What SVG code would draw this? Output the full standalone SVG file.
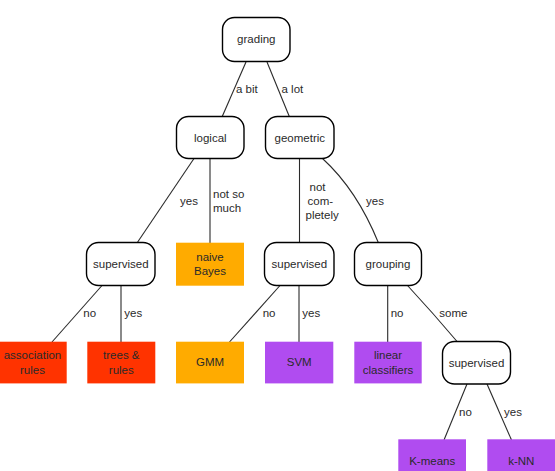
<svg xmlns="http://www.w3.org/2000/svg" width="555" height="471" viewBox="0 0 555 471">
  <style>
    .node rect { fill: #ffffff; stroke: #000000; stroke-width: 1.4; }
    .leaf rect { stroke: none; }
    .red rect { fill: #ff3300; }
    .orange rect { fill: #ffab00; }
    .purple rect { fill: #b04cf0; }
    text { font-family: "Liberation Sans", Arial, sans-serif; font-size: 11.5px; fill: #2a2a2a; }
    .c { text-anchor: middle; }
    .edges path, .edges line { fill: none; stroke: #2a2a2a; stroke-width: 1.1; }
  </style>
  <rect width="555" height="471" fill="#ffffff"/>

  <!-- connectors -->
  <g id="edges" class="edges">
    <line x1="246" y1="62" x2="222" y2="117"/>
    <line x1="267" y1="62" x2="289.5" y2="117"/>
    <line x1="194" y1="158.5" x2="137" y2="243"/>
    <line x1="210" y1="158.5" x2="210" y2="243"/>
    <line x1="299.5" y1="158.5" x2="299.5" y2="243"/>
    <path d="M322.5,158.5 Q357,190 378.5,243"/>
    <line x1="102" y1="285.5" x2="52" y2="342"/>
    <line x1="121" y1="285.5" x2="121" y2="342"/>
    <line x1="280" y1="285.5" x2="229.5" y2="342"/>
    <line x1="299" y1="285.5" x2="299" y2="342"/>
    <line x1="387.7" y1="285.5" x2="387.7" y2="342"/>
    <path d="M407.5,285.5 Q433,313 457.5,342"/>
    <line x1="467" y1="384" x2="444" y2="440"/>
    <line x1="487" y1="384" x2="511.5" y2="440"/>

    <!-- edge labels -->
    <text x="236" y="93">a bit</text>
    <text x="281.5" y="93">a lot</text>
    <text x="180" y="205">yes</text>
    <text x="213" y="198">not so</text>
    <text x="213" y="212">much</text>
    <text x="309.5" y="191">not</text>
    <text x="307.5" y="205">com-</text>
    <text x="305.5" y="218.5">pletely</text>
    <text x="366" y="205">yes</text>
    <text x="83.3" y="317">no</text>
    <text x="124.3" y="317">yes</text>
    <text x="262.7" y="317">no</text>
    <text x="302.3" y="317">yes</text>
    <text x="390.7" y="317">no</text>
    <text x="439.3" y="317">some</text>
    <text x="459" y="415.5">no</text>
    <text x="504" y="415.5">yes</text>
  </g>

  <!-- decision nodes -->
  <g id="grading" class="node">
    <rect x="222.5" y="17.5" width="67.5" height="44" rx="12"/>
    <text class="c" x="256.3" y="43">grading</text>
  </g>
  <g id="logical" class="node">
    <rect x="176.5" y="116.5" width="67.5" height="42" rx="12"/>
    <text class="c" x="210.3" y="141.5">logical</text>
  </g>
  <g id="geometric" class="node">
    <rect x="265.5" y="116.5" width="68.5" height="42" rx="12"/>
    <text class="c" x="299.8" y="141.5">geometric</text>
  </g>
  <g id="supervised-logical" class="node">
    <rect x="86.5" y="242.5" width="68.5" height="43" rx="12"/>
    <text class="c" x="120.8" y="268">supervised</text>
  </g>
  <g id="supervised-geometric" class="node">
    <rect x="264.5" y="242.5" width="69.5" height="43" rx="12"/>
    <text class="c" x="299.3" y="268">supervised</text>
  </g>
  <g id="grouping" class="node">
    <rect x="354.5" y="242.5" width="67" height="43" rx="12"/>
    <text class="c" x="388" y="268">grouping</text>
  </g>
  <g id="supervised-grouping" class="node">
    <rect x="442.5" y="341.5" width="68" height="42.5" rx="12"/>
    <text class="c" x="476.5" y="366.5">supervised</text>
  </g>

  <!-- leaf models -->
  <g id="naive-bayes" class="leaf orange">
    <rect x="176" y="242.7" width="68" height="43"/>
    <text class="c" x="210" y="260.5">naive</text>
    <text class="c" x="210" y="275">Bayes</text>
  </g>
  <g id="association-rules" class="leaf red">
    <rect x="0" y="341.7" width="66.7" height="41.7"/>
    <text class="c" x="32.5" y="359">association</text>
    <text class="c" x="32.5" y="373.5">rules</text>
  </g>
  <g id="trees-rules" class="leaf red">
    <rect x="87.3" y="341.7" width="68" height="41.7"/>
    <text class="c" x="121.3" y="359">trees &amp;</text>
    <text class="c" x="121.3" y="373.5">rules</text>
  </g>
  <g id="gmm" class="leaf orange">
    <rect x="176" y="341.7" width="68" height="41.7"/>
    <text class="c" x="210" y="366">GMM</text>
  </g>
  <g id="svm" class="leaf purple">
    <rect x="265" y="341.7" width="68.3" height="41.7"/>
    <text class="c" x="299.2" y="366">SVM</text>
  </g>
  <g id="linear-classifiers" class="leaf purple">
    <rect x="354.3" y="341.7" width="67.4" height="41.7"/>
    <text class="c" x="388" y="359">linear</text>
    <text class="c" x="388" y="373.5">classifiers</text>
  </g>
  <g id="k-means" class="leaf purple">
    <rect x="398.3" y="439.3" width="67.7" height="42"/>
    <text class="c" x="432.2" y="465">K-means</text>
  </g>
  <g id="k-nn" class="leaf purple">
    <rect x="487.3" y="439.3" width="68" height="42"/>
    <text class="c" x="521.3" y="465">k-NN</text>
  </g>
</svg>
